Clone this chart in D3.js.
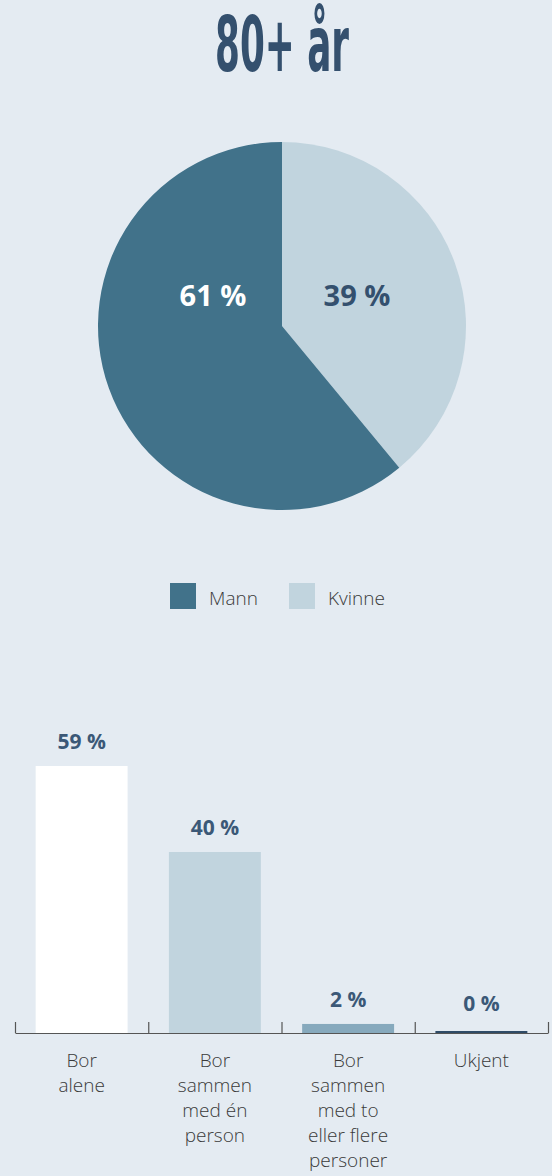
<!DOCTYPE html>
<html>
<head>
<meta charset="utf-8">
<script src="https://cdn.jsdelivr.net/npm/d3@7"></script>
<style>
  html, body { margin: 0; padding: 0; background: #e4ebf2; }
  svg { display: block; }
</style>
</head>
<body>
<svg id="chart" width="552" height="1176"></svg>
<script>
// Gender split, 80+ years
const pieLabels = ["Kvinne", "Mann"];
const pieValues = [39, 61];
const pieColors = ["#c1d4de", "#41728a"];
const pieTextColors = ["#34506e", "#ffffff"];

// Living situation
const categories = [
  ["Bor", "alene"],
  ["Bor", "sammen", "med én", "person"],
  ["Bor", "sammen", "med to", "eller flere", "personer"],
  ["Ukjent"]
];
const barValues = [59, 40, 2, 0];
const barColors = ["#ffffff", "#c1d4de", "#86a9bd", "#2f4b67"];

const svg = d3.select("#chart");
const W = 552;
const lightFont = "'Open Sans', sans-serif";

svg.append("rect").attr("width", W).attr("height", 1176).attr("fill", "#e4ebf2");

// Title
svg.append("text")
  .attr("x", 282).attr("y", 71)
  .attr("text-anchor", "middle")
  .attr("font-family", "'DejaVu Sans Condensed', 'DejaVu Sans', sans-serif")
  .attr("font-weight", "bold")
  .attr("font-size", 76)
  .attr("textLength", 134)
  .attr("lengthAdjust", "spacingAndGlyphs")
  .attr("fill", "#34506e")
  .text("80+ år");

// Pie
const cx = 282, cy = 326, r = 184;
const pie = d3.pie().sort(null).value(d => d)(pieValues);
const arc = d3.arc().innerRadius(0).outerRadius(r);
const gPie = svg.append("g").attr("transform", `translate(${cx},${cy})`);
gPie.selectAll("path").data(pie).join("path")
  .attr("d", arc)
  .attr("fill", (d, i) => pieColors[i]);

gPie.selectAll("text").data(pie).join("text")
  .attr("x", (d, i) => i === 0 ? 75 : -69)
  .attr("y", -20)
  .attr("text-anchor", "middle")
  .attr("font-family", "'Open Sans', sans-serif")
  .attr("font-weight", "bold")
  .attr("font-size", 29)
  .attr("fill", (d, i) => pieTextColors[i])
  .text(d => d.data + " %");

// Legend
const legendItems = [
  { label: "Mann", color: pieColors[1], x: 170 },
  { label: "Kvinne", color: pieColors[0], x: 289 }
];
const gLeg = svg.append("g");
legendItems.forEach(it => {
  gLeg.append("rect").attr("x", it.x).attr("y", 583).attr("width", 26).attr("height", 26)
    .attr("fill", it.color);
  gLeg.append("text").attr("x", it.x + 39).attr("y", 605)
    .attr("font-family", lightFont)
    .attr("font-weight", 300)
    .attr("font-size", 19)
    .attr("fill", "#3a3a3a")
    .text(it.label);
});

// Bar chart
const axisY = 1033;
const x = d3.scaleBand().domain(d3.range(categories.length)).range([15, 548])
  .paddingInner(0.31).paddingOuter(0.155);
const y = d3.scaleLinear().domain([0, 100]).range([axisY, axisY - 452.5]);

const gBars = svg.append("g");
gBars.selectAll("rect").data(barValues).join("rect")
  .attr("x", (d, i) => x(i))
  .attr("width", x.bandwidth())
  .attr("y", d => Math.min(y(d), axisY - 2))
  .attr("height", d => Math.max(axisY - y(d), 2) + (d === 0 ? 1 : 0))
  .attr("fill", (d, i) => barColors[i]);

gBars.selectAll("text").data(barValues).join("text")
  .attr("x", (d, i) => x(i) + x.bandwidth() / 2)
  .attr("y", d => Math.min(y(d), axisY - 5) - 17)
  .attr("text-anchor", "middle")
  .attr("font-family", "'Open Sans', sans-serif")
  .attr("font-weight", "bold")
  .attr("font-size", 21)
  .attr("fill", "#3b5877")
  .text(d => d + " %");

// Axis with ticks at category boundaries
const edge = d3.scaleLinear().domain([0, categories.length]).range([15, 548]);
const axis = svg.append("g").attr("transform", `translate(0,${axisY})`)
  .call(d3.axisBottom(edge).tickValues(d3.range(categories.length + 1)).tickSize(-11).tickFormat("").tickSizeOuter(0));
axis.select(".domain").attr("stroke", "#555").attr("stroke-width", 1.2);
axis.selectAll(".tick line").attr("stroke", "#555").attr("stroke-width", 1.2);

// Category labels
const gCat = svg.append("g");
categories.forEach((lines, i) => {
  const t = gCat.append("text")
    .attr("text-anchor", "middle")
    .attr("font-family", lightFont)
    .attr("font-weight", 300)
    .attr("font-size", 19)
    .attr("fill", "#3a3a3a");
  lines.forEach((ln, j) => {
    t.append("tspan").attr("x", x(i) + x.bandwidth() / 2).attr("y", 1067 + j * 25).text(ln);
  });
});
</script>
</body>
</html>
